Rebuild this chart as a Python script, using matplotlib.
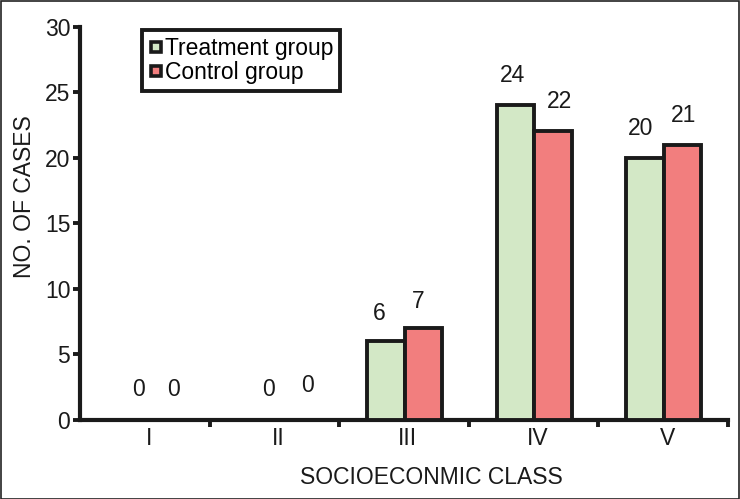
import matplotlib
matplotlib.use("Agg")
import matplotlib.pyplot as plt
from matplotlib.lines import Line2D
from matplotlib.patches import Rectangle
import numpy as np

plt.rcParams['font.family'] = ['Liberation Sans', 'DejaVu Sans']

categories = ["I", "II", "III", "IV", "V"]
treatment = [0, 0, 6, 24, 20]
control = [0, 0, 7, 22, 21]
series_names = ["Treatment group", "Control group"]
green = "#d3e8c6"
red = "#f27e7e"

# small per-label nudges (pixels) to mimic the hand placement in the reference
nudge_t = [(12, 1), (12, 1), (-7, -2), (-3, 0), (-4, 0)]
nudge_c = [(9, 1), (14, 5), (-5, -3), (6, 0), (1, 0)]

FS = 16.5
W, H = 740, 499
fig = plt.figure(figsize=(W / 100, H / 100), dpi=100)
ax = fig.add_axes([80 / W, 1 - 420 / H, (728 - 80) / W, (420 - 26.5) / H])

x = np.arange(len(categories))
bw = 0.29
off = 0.005
ax.bar(x + off - bw / 2, treatment, bw, color=green, edgecolor="#1a1a1a", linewidth=2.8, zorder=3)
ax.bar(x + off + bw / 2, control, bw, color=red, edgecolor="#1a1a1a", linewidth=2.8, zorder=3)

for i in range(len(categories)):
    for j, (vals, nud) in enumerate([(treatment, nudge_t), (control, nudge_c)]):
        xc = x[i] + off + (j - 0.5) * bw
        ax.annotate(str(vals[i]), (xc, vals[i]), xytext=(nud[i][0], 18 + nud[i][1]),
                    textcoords="offset pixels", ha="center", va="bottom", fontsize=FS,
                    color="#1a1a1a")

ax.set_xlim(-0.5, len(categories) - 0.5)
ax.set_ylim(0, 30)
ax.set_yticks(np.arange(0, 31, 5))
ax.set_xticks(x + 0.5)
ax.set_xticklabels([])
ax.set_xticks(x + 0.03, minor=True)
ax.set_xticklabels(categories, minor=True)
ax.tick_params(axis="x", which="major", length=5, width=2.8, direction="out", color="#1a1a1a")
ax.tick_params(axis="x", which="minor", length=0, pad=5, labelsize=FS, labelcolor="#1a1a1a")
ax.tick_params(axis="y", length=5, width=2.8, direction="out", labelsize=FS, pad=2,
               color="#1a1a1a", labelcolor="#1a1a1a")
for s in ["top", "right"]:
    ax.spines[s].set_visible(False)
for s in ["left", "bottom"]:
    ax.spines[s].set_linewidth(3.0)
    ax.spines[s].set_color("#1a1a1a")

fig.text(25 / W, 1 - 197 / H, "NO. OF CASES", rotation=90, ha="center", va="center",
         fontsize=FS, color="#1a1a1a")
fig.text(431 / W, 1 - 478 / H, "SOCIOECONMIC CLASS", ha="center", va="center",
         fontsize=FS, color="#1a1a1a")

handles = [Line2D([], [], marker="s", linestyle="none", markersize=7.5,
                  markerfacecolor=c, markeredgecolor="#1a1a1a", markeredgewidth=2.6)
           for c in [green, red]]
leg = ax.legend(handles, series_names, loc="upper left",
                bbox_to_anchor=(142 / W, 1 - 30 / H), bbox_transform=fig.transFigure,
                fontsize=FS, frameon=True, fancybox=False, framealpha=1, handlelength=0.6,
                handletextpad=0.1, borderpad=0.3, labelspacing=0.05, borderaxespad=0)
leg.get_frame().set_edgecolor("#1a1a1a")
leg.get_frame().set_linewidth(2.8)

fig.patches.append(Rectangle((0.001, 0.001), 0.998, 0.997, transform=fig.transFigure,
                             fill=False, edgecolor="#222222", linewidth=1.2))

fig.savefig("out.png", dpi=100)
